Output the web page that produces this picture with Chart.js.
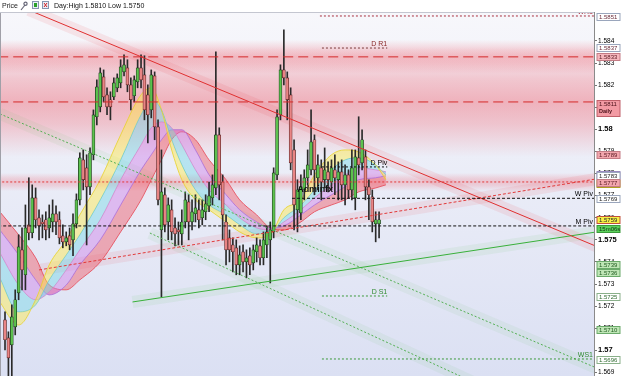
<!DOCTYPE html>
<html>
<head>
<meta charset="utf-8">
<script src="https://cdn.jsdelivr.net/npm/chart.js@4.4.1/dist/chart.umd.min.js"></script>
<style>
  html, body { margin: 0; padding: 0; background: #fff; }
  #wrap { width: 625px; height: 376px; position: relative; }
</style>
</head>
<body>
<div id="wrap"><canvas id="priceChart"></canvas></div>
<script>
// ========================================
// DATA (prices, x = bar index)
// ========================================
const opens = [
  1.57138, 1.57057, 1.57025, 1.57106, 1.57260, 1.57455, 1.57342, 1.57568, 1.57532, 1.57690,
  1.57600, 1.57581, 1.57591, 1.57554, 1.57581, 1.57618, 1.57591, 1.57518, 1.57491, 1.57518,
  1.57500, 1.57572, 1.57681, 1.57862, 1.57826, 1.57740, 1.57885, 1.58057, 1.58102, 1.58238,
  1.58156, 1.58134, 1.58147, 1.58188, 1.58210, 1.58260, 1.58278, 1.58201, 1.58152, 1.58215,
  1.58278, 1.58247, 1.58156, 1.58088, 1.58242, 1.58011, 1.57545, 1.57704, 1.57581, 1.57636,
  1.57554, 1.57545, 1.57527, 1.57581, 1.57672, 1.57581, 1.57618, 1.57636, 1.57600, 1.57627,
  1.57654, 1.57690, 1.57735, 1.57975, 1.57762, 1.57581, 1.57509, 1.57477, 1.57464, 1.57387,
  1.57446, 1.57400, 1.57428, 1.57396, 1.57446, 1.57473, 1.57419, 1.57477, 1.57500, 1.57536,
  1.57794, 1.58066, 1.58269, 1.58233, 1.58156, 1.57907, 1.57636, 1.57622, 1.57726, 1.57781,
  1.57817, 1.57953, 1.57781, 1.57826, 1.57772, 1.57808, 1.57762, 1.57817, 1.57772, 1.57808,
  1.57749, 1.57794, 1.57726, 1.57690, 1.57871, 1.57848, 1.57876, 1.57740, 1.57695, 1.57572,
  1.57572
];
const highs = [
  1.57174, 1.57084, 1.57206, 1.57274, 1.57523, 1.57554, 1.57658, 1.57781, 1.57749, 1.57735,
  1.57636, 1.57613, 1.57627, 1.57658, 1.57681, 1.57654, 1.57627, 1.57568, 1.57536, 1.57554,
  1.57618, 1.57708, 1.57894, 1.57907, 1.57885, 1.57916, 1.58088, 1.58224, 1.58278, 1.58269,
  1.58188, 1.58170, 1.58233, 1.58251, 1.58315, 1.58337, 1.58315, 1.58233, 1.58242, 1.58315,
  1.58337, 1.58333, 1.58201, 1.58269, 1.58260, 1.58043, 1.57907, 1.57735, 1.57690, 1.57681,
  1.57600, 1.57581, 1.57636, 1.57717, 1.57704, 1.57681, 1.57704, 1.57681, 1.57681, 1.57704,
  1.57762, 1.57794, 1.58351, 1.58007, 1.57794, 1.57613, 1.57545, 1.57509, 1.57500, 1.57473,
  1.57477, 1.57455, 1.57464, 1.57477, 1.57509, 1.57500, 1.57536, 1.57563, 1.57581, 1.57826,
  1.58088, 1.58292, 1.58450, 1.58260, 1.58188, 1.57953, 1.57772, 1.57794, 1.57817, 1.57907,
  1.58088, 1.57975, 1.57885, 1.57862, 1.57916, 1.57853, 1.57862, 1.57885, 1.57853, 1.57862,
  1.57839, 1.57817, 1.57907, 1.57907, 1.58057, 1.57998, 1.57907, 1.57772, 1.57726, 1.57627,
  1.57627
];
const lows = [
  1.57002, 1.56885, 1.56885, 1.57070, 1.57229, 1.57274, 1.57274, 1.57500, 1.57509, 1.57554,
  1.57500, 1.57509, 1.57500, 1.57509, 1.57536, 1.57523, 1.57482, 1.57464, 1.57473, 1.57455,
  1.57428, 1.57554, 1.57658, 1.57726, 1.57477, 1.57704, 1.57862, 1.58020, 1.58079, 1.58124,
  1.58066, 1.58043, 1.58134, 1.58170, 1.58188, 1.58242, 1.58170, 1.58088, 1.58124, 1.58188,
  1.58188, 1.58043, 1.57939, 1.58052, 1.57953, 1.57658, 1.57242, 1.57536, 1.57500, 1.57500,
  1.57473, 1.57477, 1.57477, 1.57554, 1.57500, 1.57545, 1.57581, 1.57554, 1.57568, 1.57591,
  1.57627, 1.57658, 1.57704, 1.57681, 1.57500, 1.57387, 1.57400, 1.57355, 1.57342, 1.57342,
  1.57355, 1.57328, 1.57342, 1.57364, 1.57400, 1.57387, 1.57387, 1.57419, 1.57305, 1.57509,
  1.57772, 1.58043, 1.58201, 1.58043, 1.57817, 1.57545, 1.57536, 1.57591, 1.57681, 1.57749,
  1.57794, 1.57704, 1.57726, 1.57681, 1.57735, 1.57717, 1.57726, 1.57704, 1.57681, 1.57681,
  1.57658, 1.57690, 1.57681, 1.57636, 1.57794, 1.57817, 1.57681, 1.57591, 1.57536, 1.57491,
  1.57509
];
const closes = [
  1.57048, 1.56966, 1.57152, 1.57229, 1.57468, 1.57364, 1.57554, 1.57532, 1.57690, 1.57591,
  1.57563, 1.57572, 1.57545, 1.57600, 1.57618, 1.57581, 1.57509, 1.57491, 1.57509, 1.57477,
  1.57572, 1.57681, 1.57871, 1.57772, 1.57740, 1.57894, 1.58066, 1.58192, 1.58256, 1.58147,
  1.58102, 1.58102, 1.58210, 1.58233, 1.58283, 1.58292, 1.58201, 1.58134, 1.58224, 1.58278,
  1.58224, 1.58088, 1.58066, 1.58247, 1.58011, 1.57681, 1.57717, 1.57568, 1.57658, 1.57536,
  1.57527, 1.57536, 1.57581, 1.57681, 1.57581, 1.57627, 1.57645, 1.57591, 1.57636, 1.57663,
  1.57699, 1.57749, 1.57975, 1.57749, 1.57613, 1.57455, 1.57455, 1.57446, 1.57387, 1.57432,
  1.57400, 1.57419, 1.57387, 1.57455, 1.57477, 1.57419, 1.57500, 1.57536, 1.57545, 1.57803,
  1.58057, 1.58269, 1.58233, 1.58134, 1.57848, 1.57658, 1.57726, 1.57740, 1.57781, 1.57839,
  1.57943, 1.57817, 1.57839, 1.57762, 1.57817, 1.57772, 1.57826, 1.57781, 1.57808, 1.57749,
  1.57794, 1.57726, 1.57826, 1.57876, 1.57839, 1.57953, 1.57740, 1.57704, 1.57581, 1.57591,
  1.57591
];

// rainbow ribbon (fast -> slow), sampled at these bar positions
const ribbonX = [-2, 4, 9, 13, 18, 22, 28, 34, 40, 43, 46, 49, 52, 56, 60, 65, 69, 74, 78, 82, 87, 91, 96, 100, 104, 109, 112];
const ribbonYellow = [1.57229, 1.57115, 1.57229, 1.57387, 1.57500, 1.57613, 1.57772, 1.57975, 1.58156, 1.58188, 1.58088, 1.57907, 1.57772, 1.57681, 1.57636, 1.57581, 1.57536, 1.57509, 1.57523, 1.57636, 1.57681, 1.57794, 1.57885, 1.57907, 1.57898, 1.57839, 1.57772];
const ribbonCyan   = [1.57342, 1.57174, 1.57206, 1.57319, 1.57432, 1.57523, 1.57681, 1.57862, 1.58066, 1.58134, 1.58088, 1.57953, 1.57839, 1.57726, 1.57658, 1.57613, 1.57568, 1.57527, 1.57532, 1.57600, 1.57658, 1.57726, 1.57817, 1.57862, 1.57871, 1.57839, 1.57794];
const ribbonPink   = [1.57455, 1.57296, 1.57229, 1.57265, 1.57364, 1.57455, 1.57591, 1.57772, 1.57930, 1.58007, 1.58034, 1.58007, 1.57930, 1.57817, 1.57726, 1.57658, 1.57600, 1.57554, 1.57545, 1.57581, 1.57636, 1.57690, 1.57749, 1.57794, 1.57826, 1.57817, 1.57808];
const ribbonViolet = [1.57554, 1.57432, 1.57319, 1.57251, 1.57296, 1.57387, 1.57500, 1.57658, 1.57817, 1.57885, 1.57953, 1.57998, 1.57998, 1.57907, 1.57794, 1.57704, 1.57636, 1.57581, 1.57554, 1.57563, 1.57613, 1.57658, 1.57704, 1.57740, 1.57772, 1.57781, 1.57790];
const ribbonRed    = [1.57636, 1.57523, 1.57419, 1.57296, 1.57274, 1.57319, 1.57400, 1.57536, 1.57681, 1.57772, 1.57862, 1.57953, 1.57989, 1.57953, 1.57862, 1.57772, 1.57681, 1.57613, 1.57554, 1.57545, 1.57581, 1.57627, 1.57658, 1.57681, 1.57717, 1.57735, 1.57749];

// pivot / level lines
const levelNames = ["WR1", "D R1", "", "", "", "D Piv", "W Piv", "M Piv", "D S1", "WS1"];
const levelPrices = [1.58513, 1.58368, 1.58328, 1.58124, 1.57762, 1.57830, 1.57688, 1.57563, 1.57246, 1.56961];
const levelFrom = [92.6, 93.2, -2, -2, -2, 93.2, 84.4, -2, 93.2, 93.2];
const levelTo = [174, 112.4, 174, 174, 174, 112.4, 174, 174, 112.4, 174];

// trend lines
const trendX0 = [7, 10, 37.5, -1.5, 42.6];
const trendY0 = [1.58540, 1.57364, 1.57219, 1.58070, 1.57531];
const trendX1 = [174, 174, 174, 174, 140];
const trendY1 = [1.57470, 1.57776, 1.57536, 1.56920, 1.56840];

// shaded zones around the red levels
const zonePrices = [1.58328, 1.58124, 1.57762];

// right-axis price tags
const tagAt = [1.58511, 1.58371, 1.58328, 1.58111, 1.57885, 1.57794, 1.57753, 1.57790, 1.57760, 1.57686, 1.57591, 1.57550, 1.57387, 1.57351, 1.57242, 1.57093, 1.56957];
const tagText = ["1.5851", "1.5837", "1.5833", "1.5811|Daily", "1.5789", "", "", "1.5783", "1.5777", "1.5769", "1.5759", "15m06s", "1.5739", "1.5736", "1.5725", "1.5710", "1.5696"];

const yTicks = [1.569, 1.57, 1.571, 1.572, 1.573, 1.574, 1.575, 1.576, 1.577, 1.578, 1.579, 1.58, 1.581, 1.582, 1.583, 1.584];
const headerText = "Day:High 1.5810 Low 1.5750";
const watermark = "Adminfx";
const watermarkAt = [85.9, 1.57717];

// ========================================
// STYLES
// ========================================
const FONT = "'Liberation Sans', Arial, sans-serif";
const levelColors = ["#a8303f", "#7a3a3a", "#d42a2a", "#d42a2a", "#e23a3a", "#111", "#111", "#111", "#3d9a3d", "#3d9a3d"];
const levelDash = [[2, 2], [2, 2], [10, 5], [10, 5], [2, 2], [2, 2], [3, 2], [3, 2], [2, 2], [2, 2]];
const levelInk = ["#a8303f", "#8a2a2a", "", "", "", "#000", "#000", "#000", "#2f8a2f", "#2f8a2f"];
const trendColors = ["#e03030", "#e23a3a", "#39b03a", "#54b054", "#54b054"];
const trendDash = [[], [3, 2], [], [2, 2], [2, 2]];
const trendGlow = ["rgba(240,70,80,0.11)", "rgba(240,70,80,0.10)", "rgba(80,190,80,0.08)", "rgba(80,190,80,0.07)", "rgba(80,190,80,0.07)"];
const zoneHalf = [17, 55, 9];
const zoneAlpha = [0.34, 0.42, 0.28];
const ribbonLine = ["rgba(232,210,42,0.8)", "rgba(92,198,214,0.8)", "rgba(226,122,198,0.8)", "rgba(164,106,216,0.8)", "rgba(228,64,78,0.8)"];
const ribbonFill = ["rgba(255,236,70,0.45)", "rgba(110,215,228,0.42)", "rgba(205,120,230,0.42)", "rgba(240,86,100,0.45)", "rgba(0,0,0,0)"];
const tagFill = ["#fff", "#fff", "#f6b7bd", "#f29aa3", "#f2a6ad", "#dcd2f0", "#f4ee50", "#fff", "#f2a6ad", "#fff", "#f6f046", "#5cd25c", "#bfe6b6", "#bfe6b6", "#fff", "#bfe6b6", "#fff"];
const tagEdge = ["#9aa6bc", "#9aa6bc", "#c47b84", "#c0606a", "#c47b84", "#9a8ac0", "#b0a020", "#9aa6bc", "#c47b84", "#9aa6bc", "#c0503a", "#3a9a3a", "#6aaa6a", "#6aaa6a", "#8ab08a", "#6aaa6a", "#8ab08a"];
const tagInk = ["#6a2a38", "#6a2a38", "#5a1a22", "#4a1018", "#5a1a22", "#333", "#333", "#222", "#5a1a22", "#222", "#222", "#113311", "#1f5a1f", "#1f5a1f", "#2f6a2f", "#1f5a1f", "#2f6a2f"];

// ========================================
// DATASETS
// ========================================
function segment(x0, y0, x1, y1, color, width, dash, order) {
  return {
    type: "line",
    data: [{ x: x0, y: y0 }, { x: x1, y: y1 }],
    borderColor: color,
    borderWidth: width,
    borderDash: dash,
    pointRadius: 0,
    fill: false,
    order: order,
  };
}

const datasets = [];

levelPrices.forEach((p, i) => {
  datasets.push(segment(levelFrom[i], p, levelTo[i], p, levelColors[i], 1, levelDash[i], 0));
});
trendY0.forEach((p, i) => {
  datasets.push(segment(trendX0[i], p, trendX1[i], trendY1[i], trendColors[i], 1, trendDash[i], 0));
  datasets.push(segment(trendX0[i], p, trendX1[i], trendY1[i], trendGlow[i], 12, [], 5));
});

const bullish = opens.map((o, i) => closes[i] >= o);
datasets.push({
  type: "bar",
  data: opens.map((o, i) => ({ x: i, y: [o, closes[i]] })),
  backgroundColor: bullish.map((b) => (b ? "#5cc24e" : "#e98585")),
  borderColor: bullish.map((b) => (b ? "#1d3a1d" : "#5a2222")),
  borderWidth: 0.7,
  borderSkipped: false,
  barThickness: 3,
  grouped: false,
  minBarLength: 1,
  order: 1,
});
datasets.push({
  type: "bar",
  data: lows.map((l, i) => ({ x: i, y: [l, highs[i]] })),
  backgroundColor: "#2a2a2a",
  borderWidth: 0,
  barThickness: 1,
  grouped: false,
  order: 2,
});

[ribbonYellow, ribbonCyan, ribbonPink, ribbonViolet, ribbonRed].forEach((vals, k, all) => {
  datasets.push({
    type: "line",
    data: vals.map((v, i) => ({ x: ribbonX[i], y: v })),
    borderColor: ribbonLine[k],
    borderWidth: 1,
    pointRadius: 0,
    cubicInterpolationMode: "monotone",
    fill: k < all.length - 1 ? "+1" : false,
    backgroundColor: ribbonFill[k],
    order: 3,
  });
});

// ========================================
// PLUGINS
// ========================================
const backdrop = {
  id: "backdrop",
  beforeDraw(chart) {
    const { ctx, chartArea: a, scales } = chart;
    ctx.save();
    ctx.fillStyle = "#fff";
    ctx.fillRect(0, 0, chart.width, chart.height);
    const g = ctx.createLinearGradient(0, a.top, 0, a.bottom);
    g.addColorStop(0, "#f7f7fb");
    g.addColorStop(1, "#dbe0f3");
    ctx.fillStyle = g;
    ctx.fillRect(a.left, a.top, a.right - a.left, a.bottom - a.top);
    zonePrices.forEach((p, i) => {
      const yc = scales.y.getPixelForValue(p);
      const h = zoneHalf[i];
      const al = zoneAlpha[i];
      const zg = ctx.createLinearGradient(0, yc - h, 0, yc + h);
      zg.addColorStop(0, "rgba(238,90,104,0)");
      zg.addColorStop(0.3, `rgba(238,90,104,${al * 0.7})`);
      zg.addColorStop(0.5, `rgba(238,90,104,${al})`);
      zg.addColorStop(0.7, `rgba(238,90,104,${al * 0.7})`);
      zg.addColorStop(1, "rgba(238,90,104,0)");
      ctx.fillStyle = zg;
      ctx.fillRect(a.left, yc - h, a.right - a.left, 2 * h);
    });
    ctx.restore();
  },
};

const overlay = {
  id: "overlay",
  afterDraw(chart) {
    const { ctx, chartArea: a, scales } = chart;
    const xs = scales.x, ys = scales.y;
    ctx.save();

    // level labels
    ctx.font = `7px ${FONT}`;
    ctx.textAlign = "right";
    ctx.textBaseline = "alphabetic";
    levelNames.forEach((name, i) => {
      if (!name) return;
      ctx.fillStyle = levelInk[i];
      ctx.fillText(name, Math.min(xs.getPixelForValue(levelTo[i]), a.right - 1), ys.getPixelForValue(levelPrices[i]) - 2);
    });

    // watermark
    ctx.font = `bold 9px ${FONT}`;
    ctx.textAlign = "left";
    ctx.fillStyle = "#111";
    ctx.fillText(watermark, xs.getPixelForValue(watermarkAt[0]), ys.getPixelForValue(watermarkAt[1]));

    // frame + header
    ctx.strokeStyle = "#a0a0a8";
    ctx.lineWidth = 1;
    ctx.beginPath();
    ctx.moveTo(0.5, a.top);
    ctx.lineTo(0.5, a.bottom);
    ctx.stroke();
    ctx.fillStyle = "#fff";
    ctx.fillRect(0, 0, chart.width, a.top);
    ctx.strokeStyle = "#c4c6d0";
    ctx.beginPath();
    ctx.moveTo(0, a.top + 0.5);
    ctx.lineTo(a.right, a.top + 0.5);
    ctx.stroke();
    ctx.font = `7px ${FONT}`;
    ctx.fillStyle = "#222";
    ctx.textBaseline = "middle";
    ctx.fillText("Price", 2, 6);
    // wrench
    ctx.strokeStyle = "#667";
    ctx.lineWidth = 1.2;
    ctx.beginPath();
    ctx.moveTo(21, 10);
    ctx.lineTo(25, 5);
    ctx.stroke();
    ctx.beginPath();
    ctx.arc(25.5, 3.8, 1.6, 0, Math.PI * 2);
    ctx.stroke();
    // icons
    ctx.lineWidth = 1;
    ctx.fillStyle = "#e8eef8";
    ctx.strokeStyle = "#8896b0";
    ctx.fillRect(32.5, 1.5, 6, 7);
    ctx.strokeRect(32.5, 1.5, 6, 7);
    ctx.fillRect(42.5, 1.5, 6, 7);
    ctx.strokeRect(42.5, 1.5, 6, 7);
    ctx.fillStyle = "#2aa02a";
    ctx.fillRect(34, 3, 3, 4);
    ctx.strokeStyle = "#d02020";
    ctx.beginPath();
    ctx.moveTo(44, 3); ctx.lineTo(47, 7);
    ctx.moveTo(47, 3); ctx.lineTo(44, 7);
    ctx.stroke();
    ctx.fillStyle = "#111";
    ctx.fillText(headerText, 54, 6);

    // axis tags
    const bx = a.right + 3;
    const bw = 23;
    ctx.textAlign = "left";
    ctx.textBaseline = "middle";
    tagAt.forEach((p, i) => {
      const yc = ys.getPixelForValue(p);
      const lines = tagText[i] ? tagText[i].split("|") : [""];
      const h = lines.length > 1 ? 16 : 7;
      const top = Math.round(yc - (lines.length > 1 ? 5 : h / 2)) + 0.5;
      ctx.fillStyle = tagFill[i];
      ctx.fillRect(bx, top, bw, h);
      ctx.strokeStyle = tagEdge[i];
      ctx.strokeRect(bx, top, bw, h);
      ctx.fillStyle = tagInk[i];
      lines.forEach((t, k) => {
        ctx.font = k === 0 ? `6px ${FONT}` : `bold 5.5px ${FONT}`;
        ctx.fillText(t, bx + 2, top + 4 + k * 7);
      });
    });
    ctx.restore();
  },
};

// ========================================
// CHART
// ========================================
new Chart(document.getElementById("priceChart"), {
  type: "bar",
  data: { datasets: datasets },
  options: {
    responsive: true,
    maintainAspectRatio: false,
    animation: false,
    events: [],
    layout: { padding: { top: 12, left: 1, right: 0, bottom: 0 } },
    plugins: { legend: { display: false }, tooltip: { enabled: false } },
    scales: {
      x: {
        type: "linear",
        min: -1.18,
        max: 173.2,
        offset: false,
        display: false,
      },
      y: {
        type: "linear",
        position: "right",
        min: 1.56884,
        max: 1.58531,
        afterBuildTicks: (s) => {
          s.ticks = yTicks.map((v) => ({ value: v }));
        },
        afterFit: (s) => {
          s.width = 31;
          s.paddingTop = 0;
          s.paddingBottom = 0;
        },
        grid: { drawOnChartArea: false, tickLength: 3, color: "#777" },
        border: { color: "#8a8a8a" },
        ticks: {
          autoSkip: false,
          padding: 1,
          color: "#000",
          font: (c) => {
            const v = c.tick ? c.tick.value : 0;
            const major = Math.round(v * 1000) % 5 === 0;
            return { family: FONT, size: major ? 7.5 : 6.5, weight: major ? "bold" : "normal" };
          },
          callback: (v) => String(parseFloat(Number(v).toFixed(3))),
        },
      },
    },
  },
  plugins: [backdrop, overlay],
});
</script>
</body>
</html>
